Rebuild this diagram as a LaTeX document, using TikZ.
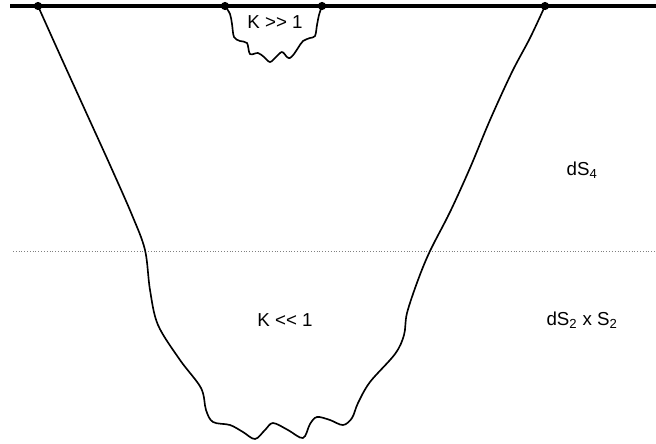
\documentclass[tikz,border=0pt]{standalone}
\usepackage{fontspec}
\setmainfont{Liberation Sans}
\usepackage{tikz}

\begin{document}
\begin{tikzpicture}[x=0.03cm, y=-0.03cm,
    pt/.style={circle,fill,inner sep=0pt,minimum size=7pt},
    lbl/.style={font=\fontsize{16}{19}\selectfont},
    wall/.style={line width=1.4pt,line join=round}]
  \useasboundingbox (0,0) rectangle (656,443);
  % boundary
  \draw[line width=2.8pt] (10,6) -- (656,6);
  \node[pt] (a) at ( 38,6) {};
  \node[pt] (b) at (225,6) {};
  \node[pt] (c) at (322,6) {};
  \node[pt] (d) at (545,6) {};
  % horizon between the two regions
  \draw[gray, dotted] (13,251) -- (656,251);
  % large region
  \draw[wall] plot[smooth, tension=0.55] coordinates {
    (a.center) (60,55) (85,110) (110,165) (132,215) (145,250) (150,290)
    (158,325) (180,360) (201,388) (206,410) (213,422) (230,425) (243,432)
    (255,439) (265,430) (273,423) (288,430) (303,438) (310,424) (317,417)
    (330,420) (343,425) (352,418) (358,403) (370,382) (395,354) (404,335)
    (407,313) (418,280) (430,251) (450,212) (470,168) (490,120) (512,72)
    (530,38) (d.center)};
  % small region
  \draw[wall] plot[smooth, tension=0.55] coordinates {
    (b.center) (230,14) (232,24) (234,37) (240,41) (247,43) (250,54)
    (258,53) (264,57) (270,62) (276,57) (282,52) (287,57) (290,58)
    (294,54) (298,48) (303,41) (310,38) (315,36) (317,25) (319,15)
    (c.center)};
  \node[lbl] (kbig)   at (275,22)  {K {>}{>} 1};
  \node[lbl] (ksmall) at (285,320) {K {<}{<} 1};
  \node[lbl] (ds4)    at (582,170) {dS\textsubscript{4}};
  \node[lbl] (ds2)    at (582,320) {dS\textsubscript{2} x S\textsubscript{2}};
\end{tikzpicture}
\end{document}
